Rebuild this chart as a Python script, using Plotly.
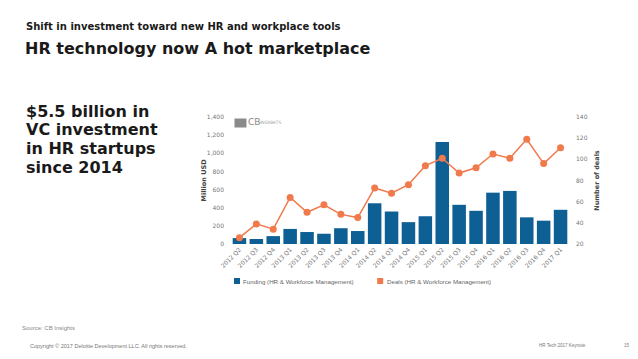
import plotly.graph_objects as go

quarters = ["2012 Q2", "2012 Q3", "2012 Q4", "2013 Q1", "2013 Q2", "2013 Q3", "2013 Q4",
            "2014 Q1", "2014 Q2", "2014 Q3", "2014 Q4", "2015 Q1", "2015 Q2", "2015 Q3",
            "2015 Q4", "2016 Q1", "2016 Q2", "2016 Q3", "2016 Q4", "2017 Q1"]
funding_musd = [65, 55, 87, 166, 132, 113, 174, 143, 449, 358, 241, 306, 1125, 432,
                366, 566, 585, 294, 257, 377]
deals = [26, 39, 34, 64, 50, 57, 48, 45, 73, 68, 76, 94, 101, 87, 92, 105, 101, 119, 96, 111]

left_ticks = [0, 200, 400, 600, 800, 1000, 1200, 1400]
right_ticks = [20, 40, 60, 80, 100, 120, 140]
highlight_lines = ["$5.5 billion in", "VC investment", "in HR startups", "since 2014"]

OFF = 8  # default page body margin
W, H = 638 - OFF, 359 - OFF
L, R, T, B = 230.5 - OFF, 569.2 - OFF, 117 - OFF, 244 - OFF
BLUE = "#0d5f94"
ORANGE = "#f17a4c"
FONT = "DejaVu Sans"
SMALL = "Liberation Sans"


def px(x):
    return (x - OFF - L) / (R - L)


def py(y):
    return (B - (y - OFF)) / (B - T)


fig = go.Figure()
fig.add_trace(go.Bar(x=quarters, y=funding_musd, marker=dict(color=BLUE, line=dict(width=0)),
                     name="Funding (HR & Workforce Management)", yaxis="y"))
fig.add_trace(go.Scatter(x=quarters, y=deals, mode="lines+markers", yaxis="y2",
                         line=dict(color=ORANGE, width=1.5),
                         marker=dict(color=ORANGE, size=7),
                         name="Deals (HR & Workforce Management)"))

tickfont = dict(family=FONT, size=6, color="#777777")
fig.update_layout(
    width=W, height=H,
    margin=dict(l=L, r=W - R, t=T, b=H - B, pad=0, autoexpand=False),
    paper_bgcolor="white", plot_bgcolor="white",
    showlegend=False, bargap=0.2,
    font=dict(family=FONT),
    xaxis=dict(tickangle=-45, tickfont=tickfont, showgrid=False, zeroline=False,
               showline=False, ticks="", automargin=False, range=[-0.5, 19.5]),
    yaxis=dict(range=[0, 1400], tickvals=left_ticks,
               ticktext=[f"{v:,}" for v in left_ticks], tickfont=tickfont,
               showgrid=False, zeroline=False, ticks="", ticklabelstandoff=6,
               automargin=False),
    yaxis2=dict(range=[20, 140], tickvals=right_ticks, overlaying="y", side="right",
                tickfont=tickfont, showgrid=False, zeroline=False, ticks="",
                ticklabelstandoff=6, automargin=False),
)

ann = []


def text(x, y, s, size, color="#1a1a1a", bold=False, xanchor="left", yanchor="middle",
         angle=0, family=FONT):
    ann.append(dict(xref="paper", yref="paper", x=px(x), y=py(y),
                    text=f"<b>{s}</b>" if bold else s, showarrow=False,
                    xanchor=xanchor, yanchor=yanchor, textangle=angle,
                    font=dict(family=family, size=size, color=color)))


text(23, 27, "Shift in investment toward new HR and workplace tools", 10, bold=True)
text(22, 48, "HR technology now A hot marketplace", 16, bold=True)
for i, line in enumerate(highlight_lines):
    text(23, 111 + i * 18.7, line, 16, bold=True)
text(203, 180, "Million USD", 6.5, color="#444444", bold=True, xanchor="center", angle=-90)
text(597, 180, "Number of deals", 6.5, color="#444444", bold=True, xanchor="center", angle=-90)
text(246, 122, "CB", 9, color="#888888")
text(258, 122.5, "INSIGHTS", 4.5, color="#999999")
text(240.5, 281, "Funding (HR & Workforce Management)", 6.2, color="#666666", family=SMALL)
text(385, 281, "Deals (HR & Workforce Management)", 6.2, color="#666666", family=SMALL)
text(19, 328, "Source: CB Insights", 6, color="#888888", family=SMALL)
text(27, 346, "Copyright © 2017 Deloitte Development LLC. All rights reserved.", 5.5,
     color="#777777", family=SMALL)
text(537, 345, "HR Tech 2017 Keynote", 4.5, color="#777777", family=SMALL)
text(622, 345, "15", 4.5, color="#777777", family=SMALL)

shapes = [
    dict(type="rect", xref="paper", yref="paper", x0=px(234), x1=px(246), y0=py(127.5),
         y1=py(118.5), fillcolor="#8a8a8a", line=dict(width=0)),
    dict(type="rect", xref="paper", yref="paper", x0=px(233.5), x1=px(239.5), y0=py(284),
         y1=py(278), fillcolor=BLUE, line=dict(width=0)),
    dict(type="rect", xref="paper", yref="paper", x0=px(377), x1=px(383), y0=py(284),
         y1=py(278), fillcolor=ORANGE, line=dict(width=0)),
]
fig.update_layout(annotations=ann, shapes=shapes)
fig.write_html("out.html")
